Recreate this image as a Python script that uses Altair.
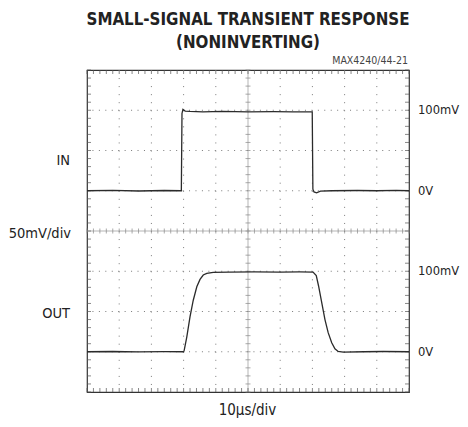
import altair as alt
import numpy as np
import pandas as pd

# ---------------- data ----------------
# time in microseconds (10 us/div, 10 divisions), amplitude in mV (50 mV/div)
in_t = [0, 8, 16, 24, 29.3, 29.5, 29.8, 30.5, 32, 36, 42, 50, 58, 64, 69.95,
        70.15, 70.5, 71.3, 72.5, 76, 84, 90, 96, 100]
in_mv = [0, 0.4, -0.3, 0.3, 0, 96, 101, 99, 98.5, 98, 98.5, 98, 98.3, 98, 98,
         2, -1.5, -2.5, -0.5, 0, 0.3, 0, 0.4, 0]

out_t = [0, 8, 16, 24, 30.0, 30.2, 31.0, 32.0, 33.0, 34.1, 35.1, 36.1, 37.2,
         39.2, 44, 52, 60, 66, 70.2, 71.2, 71.9, 72.9, 73.9, 74.9, 76.0, 77.0,
         78.0, 79.6, 86, 92, 100]
out_mv = [0, 0.3, -0.2, 0.2, 0, 2, 18.6, 43.5, 64, 80.7, 89.9, 95.3, 97.4,
          98.6, 99, 99.3, 99, 99.2, 99, 94.5, 82, 61, 40, 23.7, 11.2, 3.7,
          0.4, -0.5, 0, 0.3, 0]

in_offset_div = 5      # IN ground marker at division 5 (from bottom)
out_offset_div = 1     # OUT ground marker at division 1
mv_per_div = 50

title_lines = ["SMALL-SIGNAL TRANSIENT RESPONSE", "(NONINVERTING)"]
part_code = "MAX4240/44-21"
x_label = "10\u00b5s/div"
y_label = "50mV/div"
channel_names = ["IN", "OUT"]
level_labels = ["100mV", "0V", "100mV", "0V"]
level_mv = [100, 0, 100, 0]
level_offsets = [in_offset_div, in_offset_div, out_offset_div, out_offset_div]

# ---------------- build ----------------
FONT = "Liberation Sans Narrow, DejaVu Sans Condensed, Roboto Condensed, Arial Narrow, sans-serif"
W, H = 322, 322
xs = alt.Scale(domain=[0, 100], nice=False, zero=False)
ys = alt.Scale(domain=[0, 8], nice=False, zero=False)

traces = pd.concat([
    pd.DataFrame({"t": in_t, "v": np.array(in_mv) / mv_per_div + in_offset_div, "ch": "IN"}),
    pd.DataFrame({"t": out_t, "v": np.array(out_mv) / mv_per_div + out_offset_div, "ch": "OUT"}),
])

minor_x = np.arange(0, 100.01, 2.0)
minor_y = np.round(np.arange(0, 8.001, 0.2), 3)
major_x = [v for v in range(10, 100, 10) if v != 50]
major_y = [v for v in range(1, 8) if v != 4]

X = lambda f="x": alt.X(f"{f}:Q", scale=xs, axis=None)
Y = lambda f="y": alt.Y(f"{f}:Q", scale=ys, axis=None)

grid_v = alt.Chart(pd.DataFrame({"x": major_x})).mark_rule(
    color="#7a7a7a", strokeWidth=1, strokeDash=[1, 7.05]).encode(x=X())
grid_h = alt.Chart(pd.DataFrame({"y": major_y})).mark_rule(
    color="#7a7a7a", strokeWidth=1, strokeDash=[1, 5.44]).encode(y=Y())

center_v = alt.Chart(pd.DataFrame({"x": [50]})).mark_rule(
    color="#b5b5b5", strokeWidth=1).encode(x=X())
center_h = alt.Chart(pd.DataFrame({"y": [4]})).mark_rule(
    color="#b5b5b5", strokeWidth=1).encode(y=Y())

ct_h = alt.Chart(pd.DataFrame({"x": minor_x, "y": 4})).mark_tick(
    orient="vertical", size=5, thickness=1, color="#888").encode(x=X(), y=Y())
ct_v = alt.Chart(pd.DataFrame({"y": minor_y, "x": 50})).mark_tick(
    orient="horizontal", size=5, thickness=1, color="#888").encode(x=X(), y=Y())

edge_col = "#555"
e_bot = alt.Chart(pd.DataFrame({"x": minor_x, "y": 0})).mark_tick(
    orient="vertical", size=4, thickness=1, color=edge_col, yOffset=-2).encode(x=X(), y=Y())
e_top = alt.Chart(pd.DataFrame({"x": minor_x, "y": 8})).mark_tick(
    orient="vertical", size=4, thickness=1, color=edge_col, yOffset=2).encode(x=X(), y=Y())
e_left = alt.Chart(pd.DataFrame({"y": minor_y, "x": 0})).mark_tick(
    orient="horizontal", size=4, thickness=1, color=edge_col, xOffset=2).encode(x=X(), y=Y())
e_right = alt.Chart(pd.DataFrame({"y": minor_y, "x": 100})).mark_tick(
    orient="horizontal", size=4, thickness=1, color=edge_col, xOffset=-2).encode(x=X(), y=Y())

lines = alt.Chart(traces).mark_line(strokeWidth=1.3, interpolate="linear").encode(
    x=alt.X("t:Q", scale=xs, axis=None),
    y=alt.Y("v:Q", scale=ys, axis=None),
    detail="ch:N",
    color=alt.value("#2b2b2b"),
)


def label(text, x, y, size=14.5, weight="normal", align="left", baseline="middle", color="#222"):
    return alt.Chart(pd.DataFrame({"t": [text]})).mark_text(
        font=FONT, fontSize=size, fontWeight=weight, align=align, baseline=baseline,
        color=color).encode(text="t:N", x=alt.value(x), y=alt.value(y))


right_df = pd.DataFrame({
    "t": level_labels,
    "y": [m / mv_per_div + o for m, o in zip(level_mv, level_offsets)],
})
right_labels = alt.Chart(right_df).mark_text(
    font=FONT, fontSize=12.8, align="left", baseline="middle", color="#222"
).encode(text="t:N", x=alt.value(331), y=Y())

texts = [
    label(title_lines[0], 161, -45, size=16.8, weight="bold", align="center", baseline="alphabetic"),
    label(title_lines[1], 161, -22, size=16.8, weight="bold", align="center", baseline="alphabetic"),
    label(part_code, 321, -6, size=10.5, align="right", baseline="alphabetic", color="#444"),
    label(channel_names[0], -17, 91, align="right"),
    label(y_label, -16, 164, align="right"),
    label(channel_names[1], -17, 244, align="right"),
    label(x_label, 160.5, 345, size=15, align="center", baseline="alphabetic"),
]

chart = alt.layer(
    grid_v, grid_h, center_v, center_h, ct_h, ct_v,
    e_bot, e_top, e_left, e_right, lines, right_labels, *texts
).properties(
    width=W, height=H,
    autosize=alt.AutoSizeParams(type="none"),
    padding={"left": 79, "top": 62, "right": 51, "bottom": 27},
    background="white",
).configure_view(stroke="#333", strokeWidth=1.2)

chart.save("out.html", embed_options={"renderer": "svg", "actions": False})
